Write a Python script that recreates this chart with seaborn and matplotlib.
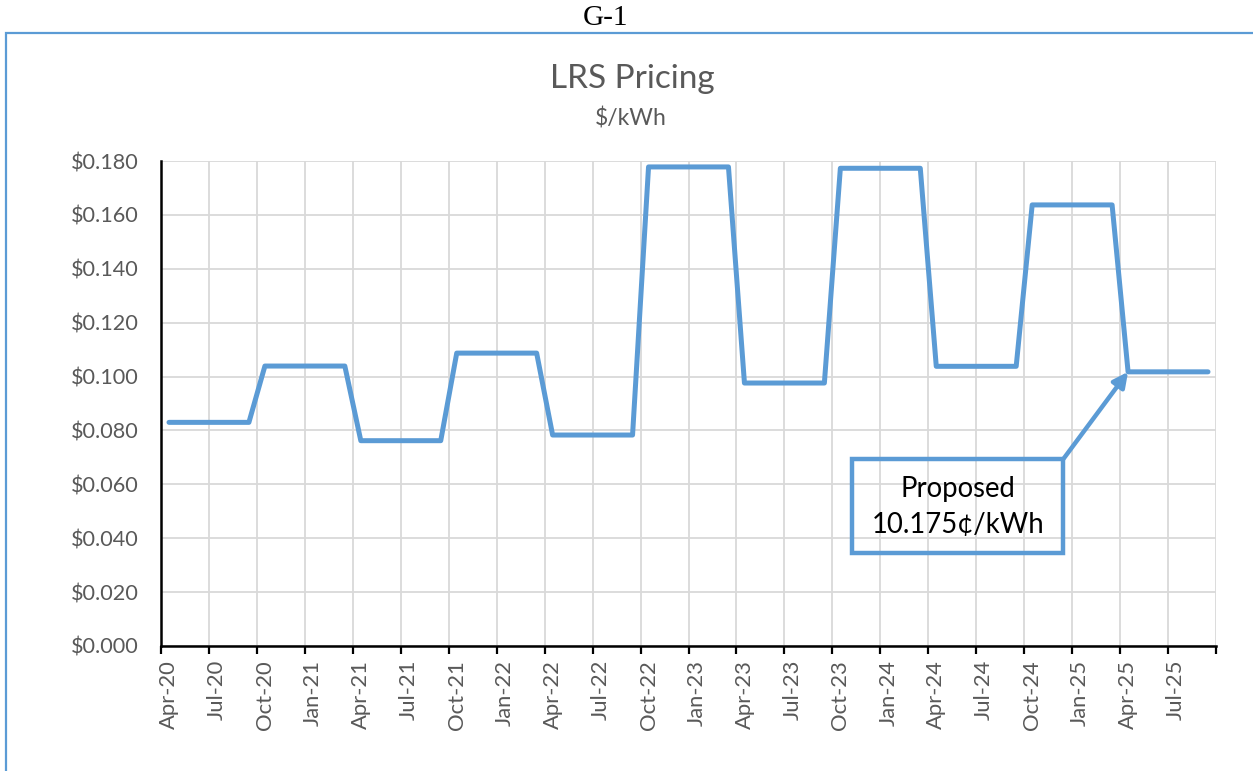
import numpy as np
import pandas as pd
import matplotlib
matplotlib.use("Agg")
import matplotlib.pyplot as plt
from matplotlib.patches import Rectangle
import seaborn as sns

# ---- data ----
months = ["Apr-20", "May-20", "Jun-20", "Jul-20", "Aug-20", "Sep-20",
          "Oct-20", "Nov-20", "Dec-20", "Jan-21", "Feb-21", "Mar-21",
          "Apr-21", "May-21", "Jun-21", "Jul-21", "Aug-21", "Sep-21",
          "Oct-21", "Nov-21", "Dec-21", "Jan-22", "Feb-22", "Mar-22",
          "Apr-22", "May-22", "Jun-22", "Jul-22", "Aug-22", "Sep-22",
          "Oct-22", "Nov-22", "Dec-22", "Jan-23", "Feb-23", "Mar-23",
          "Apr-23", "May-23", "Jun-23", "Jul-23", "Aug-23", "Sep-23",
          "Oct-23", "Nov-23", "Dec-23", "Jan-24", "Feb-24", "Mar-24",
          "Apr-24", "May-24", "Jun-24", "Jul-24", "Aug-24", "Sep-24",
          "Oct-24", "Nov-24", "Dec-24", "Jan-25", "Feb-25", "Mar-25",
          "Apr-25", "May-25", "Jun-25", "Jul-25", "Aug-25", "Sep-25"]
price = [0.0830, 0.0830, 0.0830, 0.0830, 0.0830, 0.0830,
         0.1039, 0.1039, 0.1039, 0.1039, 0.1039, 0.1039,
         0.0762, 0.0762, 0.0762, 0.0762, 0.0762, 0.0762,
         0.1087, 0.1087, 0.1087, 0.1087, 0.1087, 0.1087,
         0.0783, 0.0783, 0.0783, 0.0783, 0.0783, 0.0783,
         0.1778, 0.1778, 0.1778, 0.1778, 0.1778, 0.1778,
         0.0976, 0.0976, 0.0976, 0.0976, 0.0976, 0.0976,
         0.1773, 0.1773, 0.1773, 0.1773, 0.1773, 0.1773,
         0.1038, 0.1038, 0.1038, 0.1038, 0.1038, 0.1038,
         0.1637, 0.1637, 0.1637, 0.1637, 0.1637, 0.1637,
         0.10175, 0.10175, 0.10175, 0.10175, 0.10175, 0.10175]
y_ticks = [0.000, 0.020, 0.040, 0.060, 0.080, 0.100, 0.120, 0.140, 0.160, 0.180]
proposed_label = "Proposed\n10.175¢/kWh"
proposed_month = "Apr-25"

df = pd.DataFrame({"month": months, "price": price})
df["idx"] = np.arange(len(df))

BLUE = "#5B9BD5"
GRAY = "#595959"
GRID = "#D9D9D9"

sns.set_theme(style="white")
plt.rcParams["font.family"] = ["Lato", "DejaVu Sans"]

fig = plt.figure(figsize=(12.53, 7.71), dpi=100)
ax = fig.add_axes([161 / 1253, 1 - 646 / 771, (1216 - 161) / 1253, (646 - 161) / 771])

sns.lineplot(data=df, x="idx", y="price", ax=ax, color=BLUE, linewidth=3.6,
             solid_joinstyle="round", solid_capstyle="round", zorder=3)

n = len(df)
ax.set_xlim(-0.5, n - 0.5)
ax.set_ylim(0, 0.18)

# x ticks: major at boundaries every 3 months, labels at category centres
bounds = np.arange(-0.5, n, 3)
ax.set_xticks(bounds)
ax.set_xticklabels([])
centers = np.arange(0, n, 3)
ax.set_xticks(centers, minor=True)
ax.set_xticklabels([months[i] for i in centers], minor=True, rotation=90,
                   fontsize=15.8, color=GRAY)
ax.tick_params(axis="x", which="major", direction="out", length=5.5, width=1.6,
               color="black", bottom=True)
ax.tick_params(axis="x", which="minor", length=0, pad=10, bottom=True)

ax.set_yticks(y_ticks)
ax.set_yticklabels([f"${v:.3f}" for v in y_ticks], fontsize=15.6, color=GRAY)
ax.tick_params(axis="y", length=0, pad=16)

ax.grid(True, which="major", color=GRID, linewidth=1.3, zorder=0)
ax.set_axisbelow(True)
for s in ["top", "right"]:
    ax.spines[s].set_visible(False)
for s in ["left", "bottom"]:
    ax.spines[s].set_color("black")
    ax.spines[s].set_linewidth(1.8)
    ax.spines[s].set_zorder(4)
ax.set_xlabel("")
ax.set_ylabel("")

# annotation box and arrow
bx0, bx1 = 42.75, 55.95
by0, by1 = 0.0345, 0.0694
ax.add_patch(Rectangle((bx0, by0), bx1 - bx0, by1 - by0, fill=False,
                       edgecolor=BLUE, linewidth=3.2, zorder=5, clip_on=False))
ax.text((bx0 + bx1) / 2, (by0 + by1) / 2 - 0.0003, proposed_label, ha="center",
        va="center", fontsize=19.8, color="black", linespacing=1.45, zorder=6)
pi = months.index(proposed_month)
ax.annotate("", xy=(pi, price[pi]), xytext=(bx1, by1),
            arrowprops=dict(arrowstyle="-|>", color=BLUE, lw=3.2,
                            mutation_scale=22, shrinkA=0, shrinkB=0),
            zorder=6)

# titles
fig.text(632 / 1253, 1 - 79 / 771, "LRS Pricing", ha="center", va="center",
         fontsize=24, color=GRAY)
fig.text(631 / 1253, 1 - 118 / 771, "$/kWh", ha="center", va="center",
         fontsize=16.5, color=GRAY)
fig.text(606 / 1253, 1 - 18 / 771, "G-1", ha="center", va="center",
         fontsize=21, color="black", family=["Liberation Serif", "DejaVu Serif"])

# outer blue frame
fig.patches.append(Rectangle((6 / 1253, -0.05), 1.1, 1 - 33 / 771 + 0.05,
                             transform=fig.transFigure, fill=False,
                             edgecolor=BLUE, linewidth=1.6))

fig.savefig("out.png", dpi=100)
